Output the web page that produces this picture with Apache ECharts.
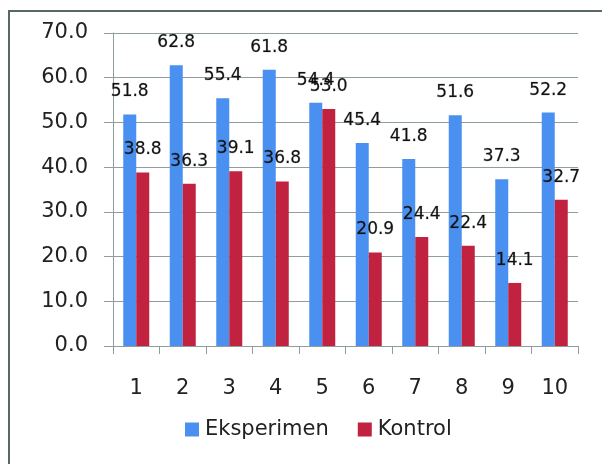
<!DOCTYPE html>
<html>
<head>
<meta charset="utf-8">
<script src="https://cdn.jsdelivr.net/npm/echarts@6/dist/echarts.min.js"></script>
<style>
  html, body { margin: 0; padding: 0; background: #fff; }
  #chart { width: 602px; height: 464px; }
</style>
</head>
<body>
<div id="chart"></div>
<script>
// Scores per test item for the two groups
const categories = ['1', '2', '3', '4', '5', '6', '7', '8', '9', '10'];
const eksperimen = [51.8, 62.8, 55.4, 61.8, 54.4, 45.4, 41.8, 51.6, 37.3, 52.2];
const kontrol = [38.8, 36.3, 39.1, 36.8, 53.0, 20.9, 24.4, 22.4, 14.1, 32.7];
const seriesNames = ['Eksperimen', 'Kontrol'];

const FONT = 'DejaVu Sans';
const gridColor = '#8f9d9d';

const labelStyle = {
  show: true,
  position: 'top',
  distance: 14,
  fontFamily: FONT,
  fontSize: 17,
  color: '#111',
  textBorderColor: 'rgba(17,17,17,0.35)',
  textBorderWidth: 0.6,
  formatter: p => p.value.toFixed(1)
};

const chart = echarts.init(document.getElementById('chart'), null, { renderer: 'canvas' });
chart.setOption({
  animation: false,
  backgroundColor: '#fff',
  graphic: [{
    type: 'rect',
    shape: { x: 9, y: 11, width: 700, height: 700 },
    style: { fill: 'none', stroke: '#586868', lineWidth: 2 },
    silent: true
  }],
  grid: { left: 113, right: 24, top: 33, bottom: 118, containLabel: false },
  legend: {
    data: seriesNames,
    left: 180,
    top: 414,
    icon: 'rect',
    itemWidth: 14,
    itemHeight: 14,
    itemGap: 29,
    textStyle: { fontFamily: FONT, fontSize: 21, color: '#222', padding: [0, 0, 0, 1] }
  },
  xAxis: {
    type: 'category',
    data: categories,
    axisLine: { lineStyle: { color: gridColor, width: 1 } },
    axisTick: { show: true, length: 8, lineStyle: { color: gridColor } },
    axisLabel: { margin: 32, fontFamily: FONT, fontSize: 21, color: '#222' }
  },
  yAxis: {
    type: 'value',
    min: 0,
    max: 70,
    interval: 10,
    axisLine: { show: true, lineStyle: { color: gridColor, width: 1 } },
    axisTick: { show: true, length: 9, lineStyle: { color: gridColor } },
    splitLine: { lineStyle: { color: gridColor, width: 1 } },
    axisLabel: {
      margin: 25,
      fontFamily: FONT,
      fontSize: 21,
      color: '#222',
      formatter: v => v.toFixed(1)
    }
  },
  series: [
    {
      name: seriesNames[0],
      type: 'bar',
      data: eksperimen,
      barWidth: 13,
      barGap: '0%',
      itemStyle: { color: '#4a90f0' },
      label: labelStyle
    },
    {
      name: seriesNames[1],
      type: 'bar',
      data: kontrol,
      barWidth: 13,
      barGap: '0%',
      itemStyle: { color: '#c0223f' },
      label: labelStyle
    }
  ]
});
</script>
</body>
</html>
